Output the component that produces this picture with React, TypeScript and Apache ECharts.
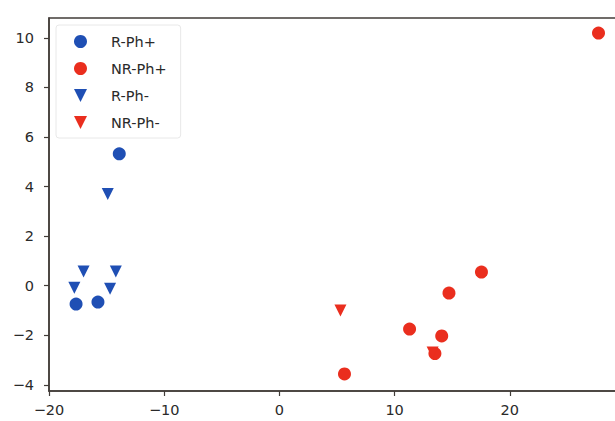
import React, { useEffect, useRef } from "react";
import * as echarts from "echarts";

const BLUE = "#1f4fb4";
const RED = "#ea2e1e";
const TRI_DOWN = "path://M0,0L10,0L5,10Z";

const rPhPlus: [number, number][] = [
  [-13.9, 5.32],
  [-17.65, -0.74],
  [-15.75, -0.66],
];
const nrPhPlus: [number, number][] = [
  [27.7, 10.19],
  [17.54, 0.55],
  [14.72, -0.3],
  [11.3, -1.75],
  [14.09, -2.03],
  [13.5, -2.74],
  [5.65, -3.56],
];
const rPhMinus: [number, number][] = [
  [-14.9, 3.7],
  [-17.0, 0.57],
  [-14.2, 0.57],
  [-17.8, -0.08],
  [-14.7, -0.12],
];
const nrPhMinus: [number, number][] = [
  [5.3, -1.0],
  [13.3, -2.7],
];

const xTicks = [-20, -10, 0, 10, 20];
const yTicks = [-4, -2, 0, 2, 4, 6, 8, 10];

const fmt = (v: number) => String(v).replace("-", "\u2212");

export default function App() {
  const ref = useRef<HTMLDivElement>(null);
  useEffect(() => {
    if (!ref.current) return;
    const chart = echarts.init(ref.current, undefined, { renderer: "svg" });
    const axisCommon = {
      axisLine: { show: true, onZero: false, lineStyle: { color: "#423c38", width: 1.5 } },
      axisTick: { show: true, length: 5, lineStyle: { color: "#423c38", width: 1.2 } },
      splitLine: { show: false },
    };
    chart.setOption({
      animation: false,
      backgroundColor: "#ffffff",
      textStyle: { fontFamily: "DejaVu Sans" },
      grid: {
        left: 49,
        top: 18,
        height: 373,
        width: 576,
        outerBoundsMode: "none",
        containLabel: false,
        show: true,
        borderColor: "#423c38",
        borderWidth: 1.5,
        backgroundColor: "transparent",
      },
      xAxis: {
        type: "value",
        min: -20,
        max: 30,
        ...axisCommon,
        axisTick: { ...axisCommon.axisTick, customValues: xTicks },
        axisLabel: {
          customValues: xTicks,
          formatter: fmt,
          color: "#2a2a2a",
          fontSize: 14.5,
          fontFamily: "DejaVu Sans",
          margin: 11,
        },
      },
      yAxis: {
        type: "value",
        min: -4.25,
        max: 10.8,
        ...axisCommon,
        axisTick: { ...axisCommon.axisTick, customValues: yTicks },
        axisLabel: {
          customValues: yTicks,
          formatter: fmt,
          color: "#2a2a2a",
          fontSize: 14.5,
          fontFamily: "DejaVu Sans",
          margin: 15,
        },
      },
      legend: {
        orient: "vertical",
        left: 56,
        top: 25,
        itemWidth: 13,
        itemHeight: 13,
        itemGap: 12,
        padding: [9, 14, 8, 18],
        backgroundColor: "rgba(255,255,255,0.8)",
        borderColor: "#e8e8e8",
        borderWidth: 1,
        borderRadius: 3,
        textStyle: {
          color: "#2a2a2a",
          fontSize: 14.5,
          fontFamily: "DejaVu Sans",
          padding: [0, 0, 0, 19],
        },
        data: [
          { name: "R-Ph+", icon: "circle" },
          { name: "NR-Ph+", icon: "circle" },
          { name: "R-Ph-", icon: TRI_DOWN },
          { name: "NR-Ph-", icon: TRI_DOWN },
        ],
      },
      series: [
        {
          name: "R-Ph+",
          type: "scatter",
          data: rPhPlus,
          symbol: "circle",
          symbolSize: 13,
          itemStyle: { color: BLUE, opacity: 1 },
        },
        {
          name: "NR-Ph+",
          type: "scatter",
          data: nrPhPlus,
          symbol: "circle",
          symbolSize: 13,
          itemStyle: { color: RED, opacity: 1 },
        },
        {
          name: "R-Ph-",
          type: "scatter",
          data: rPhMinus,
          symbol: TRI_DOWN,
          symbolSize: 12,
          itemStyle: { color: BLUE, opacity: 1 },
        },
        {
          name: "NR-Ph-",
          type: "scatter",
          data: nrPhMinus,
          symbol: TRI_DOWN,
          symbolSize: 12,
          itemStyle: { color: RED, opacity: 1 },
        },
      ],
    });
    return () => chart.dispose();
  }, []);
  return (
    <div
      ref={ref}
      style={{ position: "absolute", left: 0, top: 0, width: 615, height: 421 }}
    />
  );
}
